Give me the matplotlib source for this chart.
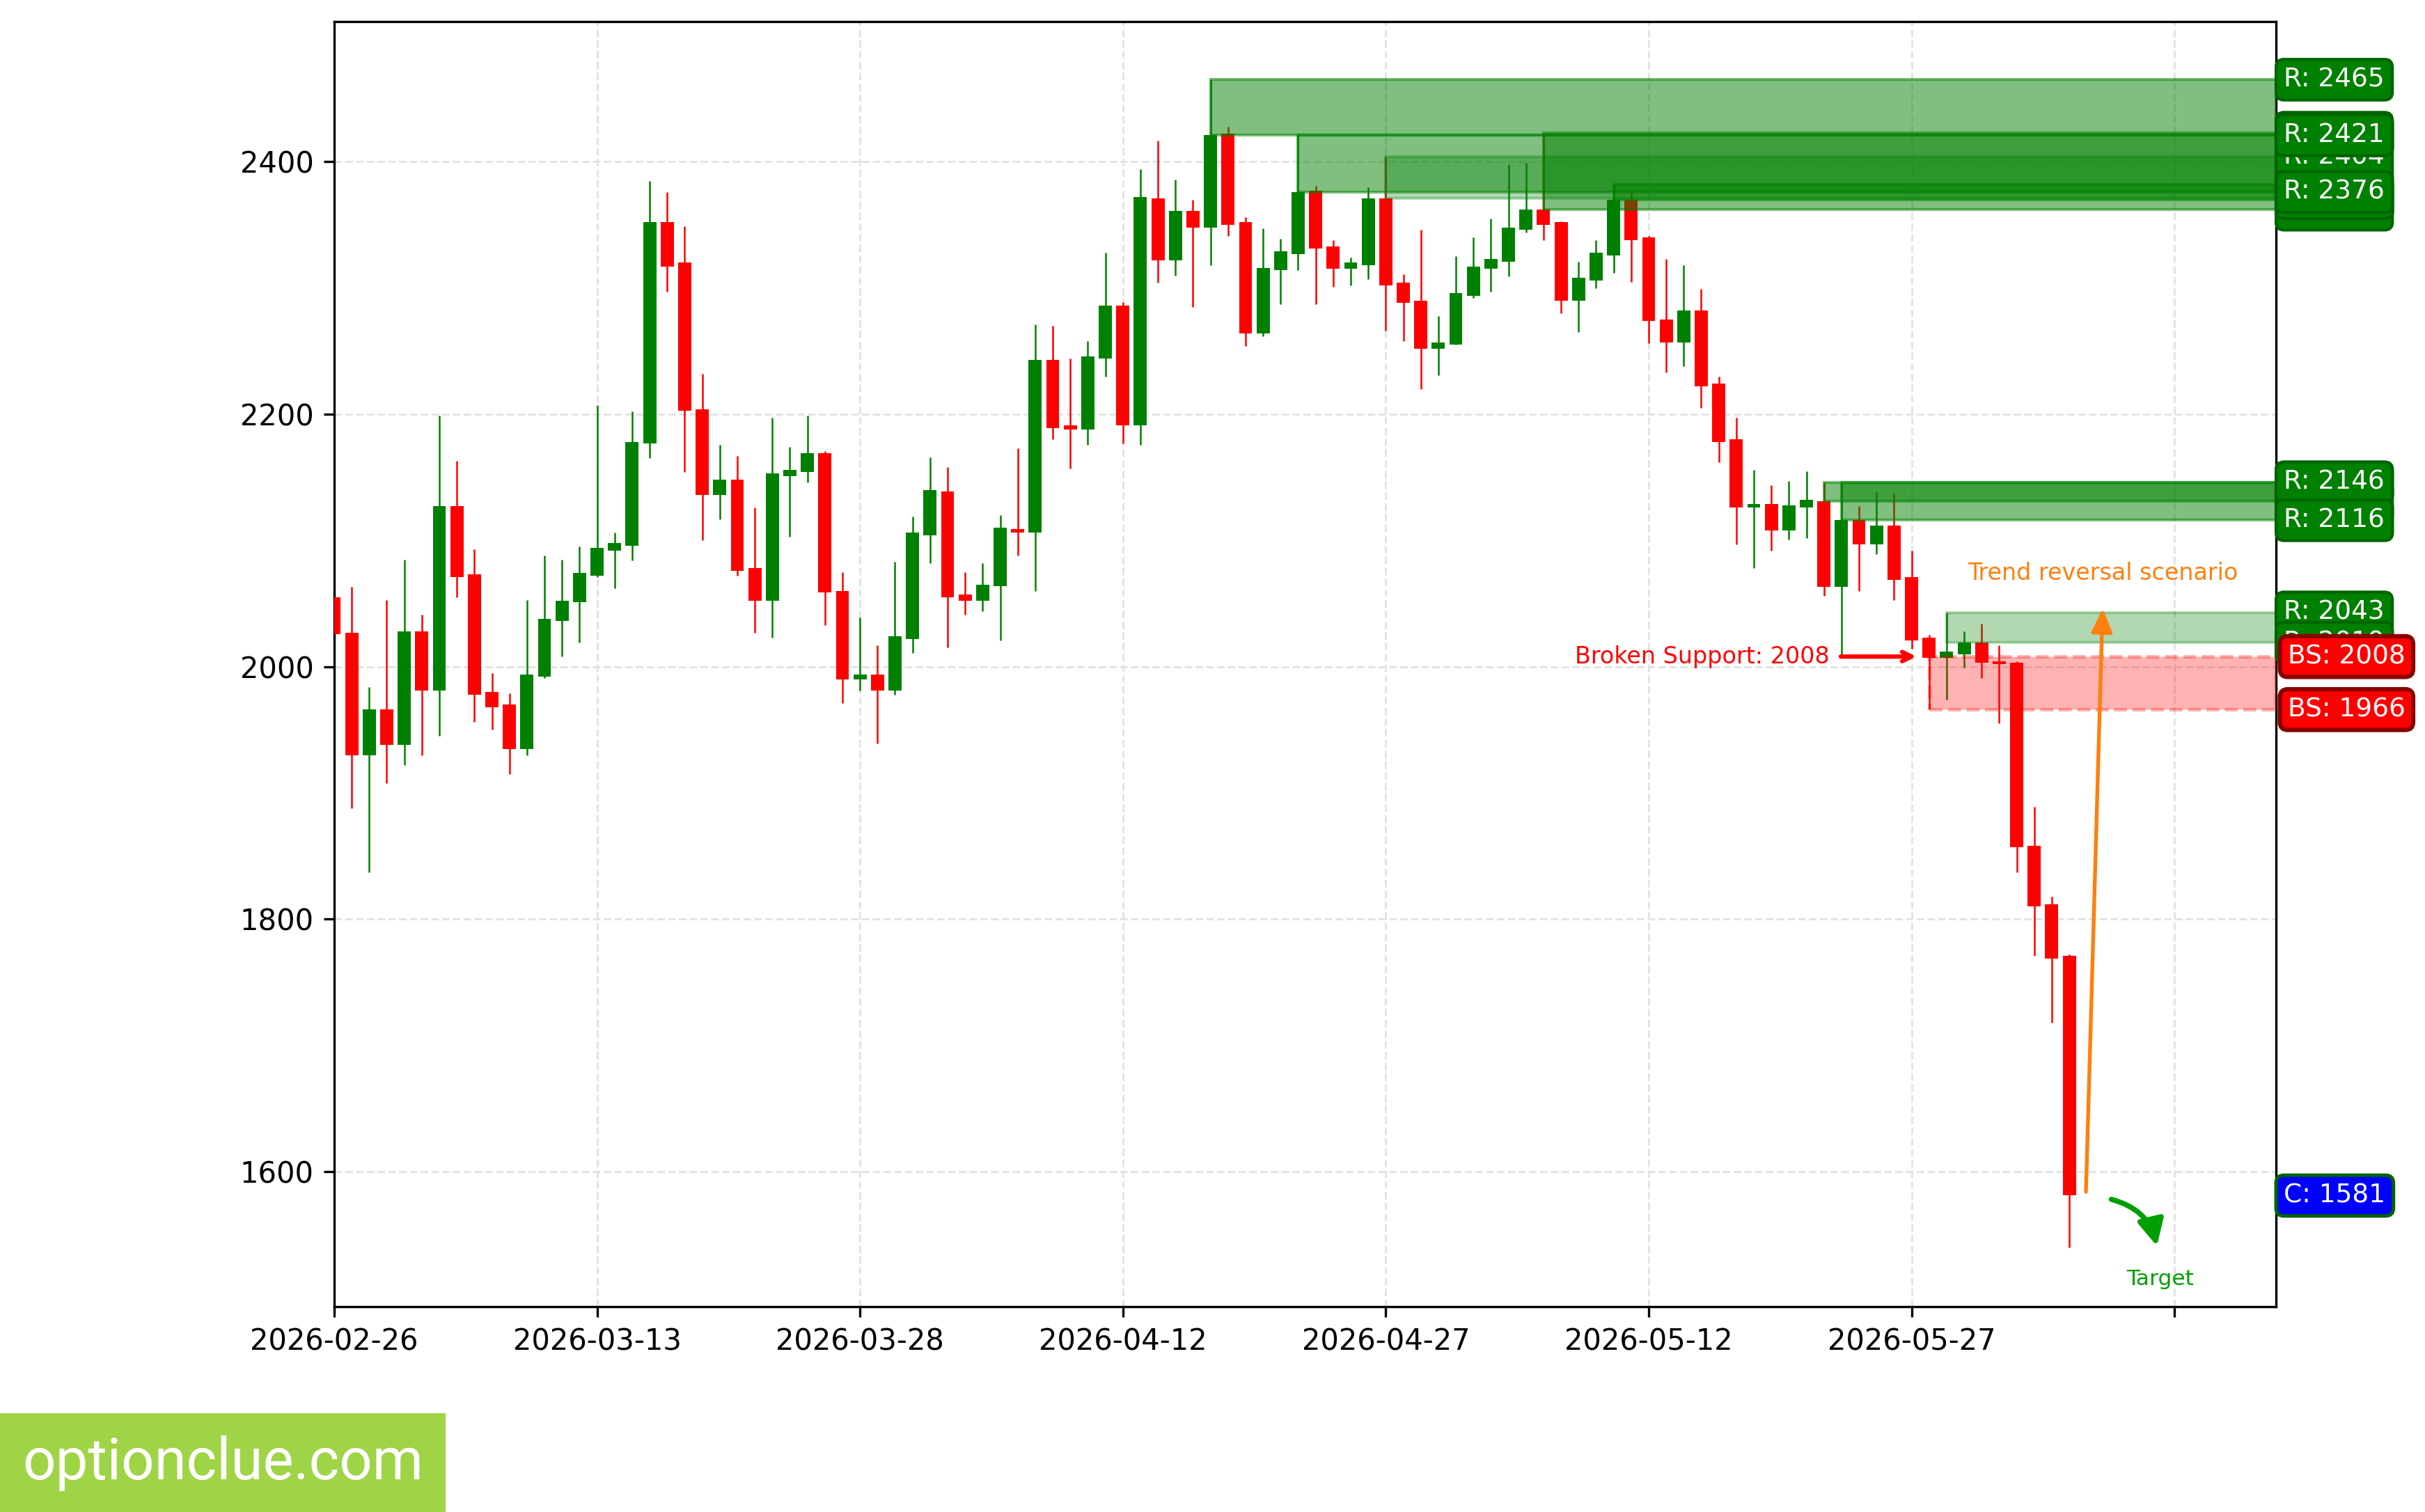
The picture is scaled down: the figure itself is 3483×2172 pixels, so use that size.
import matplotlib
matplotlib.use("Agg")
import matplotlib.pyplot as plt
import matplotlib.dates as mdates
from matplotlib.patches import Rectangle
import pandas as pd

# daily candles starting 2026-02-26
start = "2026-02-26"
opens = [2055, 2027, 1930, 1966, 1938, 2028, 1981, 2127, 2073, 1980,
         1970, 1935, 1992, 2036, 2051, 2072, 2092, 2096, 2177, 2352,
         2320, 2204, 2136, 2148, 2078, 2052, 2151, 2154, 2169, 2060,
         1990, 1994, 1981, 2022, 2104, 2139, 2057, 2052, 2064, 2109,
         2106, 2243, 2191, 2188, 2244, 2286, 2191, 2371, 2322, 2361,
         2348, 2422, 2352, 2264, 2314, 2327, 2377, 2333, 2315, 2318,
         2371, 2304, 2290, 2252, 2255, 2294, 2315, 2321, 2346, 2362,
         2352, 2290, 2306, 2326, 2370, 2340, 2275, 2257, 2282, 2224,
         2180, 2126, 2129, 2108, 2126, 2131, 2063, 2116, 2097, 2112,
         2071, 2023, 2007, 2010, 2019, 2004, 2003, 1858, 1812, 1771]
highs = [2060, 2063, 1984, 2053, 2085, 2041, 2199, 2163, 2093, 1995,
         1979, 2053, 2088, 2085, 2095, 2207, 2106, 2202, 2385, 2376,
         2349, 2232, 2176, 2167, 2126, 2197, 2174, 2199, 2171, 2075,
         2039, 2017, 2083, 2119, 2166, 2158, 2075, 2082, 2120, 2173,
         2271, 2270, 2244, 2258, 2328, 2289, 2394, 2417, 2386, 2370,
         2465, 2428, 2356, 2347, 2339, 2421, 2381, 2338, 2324, 2380,
         2404, 2311, 2346, 2278, 2325, 2340, 2355, 2398, 2399, 2423,
         2353, 2321, 2338, 2382, 2376, 2341, 2323, 2318, 2299, 2230,
         2197, 2156, 2144, 2147, 2155, 2146, 2145, 2127, 2138, 2137,
         2092, 2025, 2043, 2028, 2034, 2017, 2004, 1889, 1818, 1772]
lows = [2020, 1888, 1837, 1908, 1922, 1930, 1945, 2055, 1956, 1950,
        1915, 1930, 1991, 2008, 2019, 2071, 2062, 2084, 2165, 2297,
        2154, 2100, 2117, 2072, 2027, 2023, 2103, 2146, 2033, 1971,
        1981, 1939, 1978, 2011, 2082, 2015, 2041, 2044, 2021, 2088,
        2060, 2180, 2157, 2176, 2230, 2177, 2176, 2304, 2310, 2285,
        2318, 2341, 2254, 2262, 2287, 2314, 2287, 2301, 2302, 2307,
        2266, 2258, 2220, 2231, 2255, 2292, 2297, 2309, 2344, 2338,
        2280, 2265, 2300, 2312, 2305, 2256, 2233, 2238, 2205, 2162,
        2097, 2078, 2092, 2101, 2102, 2056, 2010, 2060, 2089, 2053,
        2014, 1966, 1974, 1999, 1991, 1955, 1837, 1771, 1718, 1540]
closes = [2026, 1930, 1966, 1938, 2028, 1981, 2127, 2071, 1978, 1968,
          1935, 1994, 2038, 2052, 2074, 2094, 2098, 2178, 2352, 2317,
          2203, 2136, 2148, 2076, 2052, 2153, 2156, 2169, 2059, 1990,
          1994, 1981, 2024, 2106, 2140, 2055, 2052, 2065, 2110, 2106,
          2243, 2189, 2188, 2246, 2286, 2191, 2372, 2322, 2361, 2348,
          2421, 2350, 2264, 2316, 2329, 2376, 2331, 2315, 2320, 2371,
          2302, 2288, 2252, 2257, 2296, 2317, 2323, 2348, 2362, 2350,
          2290, 2308, 2328, 2370, 2338, 2274, 2257, 2282, 2222, 2178,
          2126, 2129, 2108, 2128, 2132, 2063, 2116, 2097, 2112, 2069,
          2021, 2007, 2012, 2019, 2003, 2002, 1857, 1810, 1769, 1581]

# resistance zones: candle index where the zone starts, low, high
zone_start = [73, 69, 60, 55, 50, 85, 86, 92]
zone_low = [2370, 2362, 2371, 2376, 2421, 2131, 2116, 2019]
zone_high = [2382, 2423, 2404, 2421, 2465, 2146, 2146, 2043]

# broken support zone
bs_start = 91
bs_low = 1966
bs_high = 2008

dates = pd.date_range(start, periods=len(opens), freq="D")
x = mdates.date2num(dates)
x_end = x[0] + 110.8

fig = plt.figure(figsize=(11.61, 7.24), dpi=300)
ax = fig.add_axes([0.1378, 0.1358, 0.8008, 0.8499])

up = [c >= o for o, c in zip(opens, closes)]
cols = ["green" if u else "red" for u in up]
bottoms = [min(o, c) for o, c in zip(opens, closes)]
heights = [abs(c - o) for o, c in zip(opens, closes)]

ax.vlines(x, lows, highs, colors=cols, linewidth=0.6, zorder=2)
ax.bar(x, heights, bottom=bottoms, width=0.75, color=cols, zorder=3)

# zones
zone_alpha = [0.5, 0.5, 0.3, 0.5, 0.5, 0.5, 0.5, 0.3]
for s, lo, hi, a in zip(zone_start, zone_low, zone_high, zone_alpha):
    ax.add_patch(Rectangle((x[s], lo), x_end - x[s], hi - lo,
                           facecolor="green", edgecolor="green", alpha=a,
                           linewidth=1, zorder=4))
ax.add_patch(Rectangle((x[bs_start], bs_low), x_end - x[bs_start], bs_high - bs_low,
                       facecolor="red", edgecolor="red", alpha=0.3,
                       linewidth=1.2, linestyle="--", zorder=4))

# right side price labels
yt = ax.get_yaxis_transform()
for lo, hi in zip(zone_low, zone_high):
    for v in (hi, lo):
        ax.text(1.004, v, f"R: {v}", transform=yt, color="white", fontsize=9,
                va="center", ha="left", clip_on=False, zorder=10,
                bbox=dict(boxstyle="round,pad=0.3", fc="green", ec="darkgreen", lw=1))
for v in (bs_high, bs_low):
    ax.text(1.006, v, f"BS: {v}", transform=yt, color="white", fontsize=9,
            va="center", ha="left", clip_on=False, zorder=10,
            bbox=dict(boxstyle="round,pad=0.3", fc="red", ec="darkred", lw=1.5))
ax.text(1.004, closes[-1], f"C: {closes[-1]}", transform=yt, color="white", fontsize=9,
        va="center", ha="left", clip_on=False, zorder=10,
        bbox=dict(boxstyle="round,pad=0.3", fc="blue", ec="darkgreen", lw=1.2))

# annotations
ax.annotate(f"Broken Support: {bs_high}", xy=(x[bs_start] - 0.4, bs_high),
            xytext=(x[bs_start] - 5.7, bs_high), color="red", fontsize=8,
            ha="right", va="center", zorder=6,
            arrowprops=dict(arrowstyle="->", color="red", lw=1.5))

orange = "#ff7f0e"
ax.annotate("", xy=(x[-1] + 1.9, zone_high[-1] + 3), xytext=(x[-1] + 0.95, closes[-1] + 3),
            arrowprops=dict(arrowstyle="-|>,head_length=0.45,head_width=0.2",
                            color=orange, lw=1.3, mutation_scale=15,
                            shrinkA=0, shrinkB=0), zorder=6)
ax.text(x[-1] + 1.9, 2074, "Trend reversal scenario", color=orange, fontsize=8,
        ha="center", va="center", zorder=6)

tgreen = "#009f00"
ax.annotate("", xy=(x[-1] + 5.0, lows[-1] + 1), xytext=(x[-1] + 2.4, closes[-1] - 3),
            arrowprops=dict(arrowstyle="-|>,head_length=0.5,head_width=0.25",
                            color=tgreen, lw=1.8, mutation_scale=15,
                            connectionstyle="arc3,rad=-0.3",
                            shrinkA=0, shrinkB=0), zorder=6)
ax.text(x[-1] + 5.2, 1515, "Target", color=tgreen, fontsize=7.5,
        ha="center", va="center", zorder=6)

# axes
ticks = pd.date_range(start, periods=8, freq="15D")
ax.set_xticks(mdates.date2num(ticks))
ax.set_xticklabels([d.strftime("%Y-%m-%d") for d in ticks[:-1]] + [""], fontsize=10)
ax.set_yticks([1600, 1800, 2000, 2200, 2400])
ax.tick_params(labelsize=10)
ax.set_xlim(x[0], x_end)
ax.set_ylim(1493, 2511)
ax.grid(True, linestyle="--", color="#e3e3e3", linewidth=0.7)
ax.set_axisbelow(True)

# watermark
fig.add_artist(Rectangle((0, 0), 640 / 3483, 142 / 2172, transform=fig.transFigure,
                         facecolor="#9fd447", edgecolor="none"))
fig.text(0.0092, 0.0216, "optionclue.com", family="Roboto", fontsize=20,
         color="white", va="baseline", ha="left")

fig.savefig("out.png", dpi=300)
